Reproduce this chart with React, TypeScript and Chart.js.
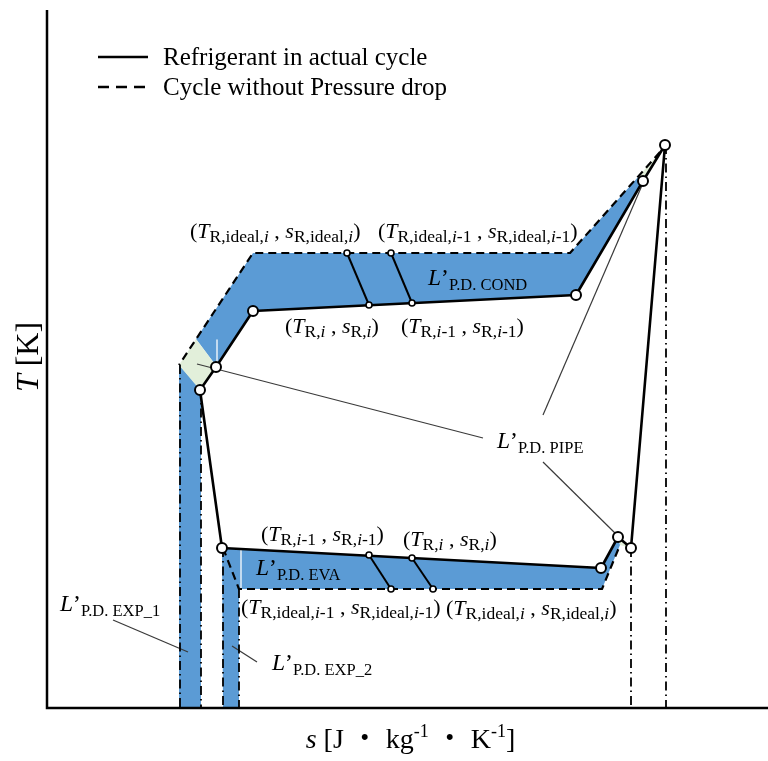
import React, { useEffect, useRef } from "react";
import { Chart, registerables } from "chart.js";

Chart.register(...registerables);

// ---- T-s diagram data (entropy s, temperature T; arbitrary drawing units) ----

// refrigerant in the actual cycle (closed loop, starting at compressor discharge)
const actualS = [618, 596, 529, 206, 169, 153, 175, 554, 571, 584, 618];
const actualT = [563, 527, 413, 397, 341, 318, 160, 140, 171, 160, 563];

// cycle without pressure drop: condenser side and evaporator side
const idealCondS = [613, 523, 206, 132];
const idealCondT = [556, 455, 455, 343];
const idealEvaS = [176, 192, 555, 573];
const idealEvaT = [160, 119, 119, 163];

// vertical dash-dot guide lines down to the s axis
const guideS = [133, 154, 176, 192, 584, 619];
const guideTopT = [343, 318, 160, 119, 160, 563];

// state pairs linking actual states i / i-1 to ideal states
const condActualS = [322, 365];
const condActualT = [403, 405];
const condIdealS = [300, 344];
const condIdealT = [455, 455];
const evaActualS = [322, 365];
const evaActualT = [153, 150];
const evaIdealS = [344, 386];
const evaIdealT = [119, 119];

// main state points (open circles)
const stateS = [618, 596, 529, 206, 169, 153, 175, 554, 571, 584];
const stateT = [563, 527, 413, 397, 341, 318, 160, 140, 171, 160];

// pressure-drop loss regions
const condBandS = [592, 523, 206, 149, 170, 206, 529, 596];
const condBandT = [532, 455, 455, 369, 341, 397, 413, 527];
const evaBandS = [175, 554, 571, 573, 555, 192, 192, 176];
const evaBandT = [160, 140, 171, 163, 119, 119, 0, 0];
const exp1BandS = [132, 154, 154, 132];
const exp1BandT = [343, 318, 0, 0];
const pipeTopS = [613, 592, 596, 618];
const pipeTopT = [556, 532, 527, 563];
const pipeLeftS = [149, 132, 153, 170];
const pipeLeftT = [369, 343, 318, 341];
const pipeRightS = [571, 584, 573];
const pipeRightT = [171, 160, 163];

// leader lines from labels to regions: [s0, s1], [T0, T1]
const leaderS = [[66, 141], [185, 210], [150, 436], [596, 496], [496, 570]];
const leaderT = [[88, 56], [62, 46], [344, 270], [525, 293], [246, 173]];

// light edges inside the bands
const glintS = [[170, 170], [194, 194]];
const glintT = [[368, 345], [158, 120]];

const S_MAX = 721;
const T_MAX = 698;

const BLUE = "#5b9bd5";
const GREEN = "#e2efda";
const SERIF = "'Liberation Serif', 'Times New Roman', 'Noto Sans CJK JP', serif";

type Run = { t: string; it?: boolean; sub?: boolean; sup?: boolean };

const pts = (s: number[], t: number[]) => s.map((v, i) => ({ x: v, y: t[i] }));

function pair(ideal: boolean, prev: boolean): Run[] {
  const idx: Run[] = [
    { t: ideal ? "R,ideal," : "R,", sub: true },
    { t: "i", it: true, sub: true },
  ];
  if (prev) idx.push({ t: "-1", sub: true });
  return [
    { t: "(" },
    { t: "T", it: true },
    ...idx,
    { t: " , " },
    { t: "s", it: true },
    ...idx,
    { t: ")" },
  ];
}

function lossLabel(name: string): Run[] {
  return [{ t: "L", it: true }, { t: "\u2019" }, { t: name, sub: true }];
}

type Label = { s: number; T: number; runs: Run[]; size: number; subSize: number; subDy: number };

const P = { size: 22, subSize: 17.5, subDy: 4 };
const L = { size: 23.5, subSize: 16.5, subDy: 5 };

const labels: Label[] = [
  { s: 143, T: 470, runs: pair(true, false), ...P },
  { s: 331, T: 470, runs: pair(true, true), ...P },
  { s: 381, T: 423, runs: lossLabel("P.D. COND"), ...L },
  { s: 238, T: 375, runs: pair(false, false), ...P },
  { s: 354, T: 375, runs: pair(false, true), ...P },
  { s: 450, T: 260, runs: lossLabel("P.D. PIPE"), ...L },
  { s: 214, T: 167, runs: pair(false, true), ...P },
  { s: 356, T: 162, runs: pair(false, false), ...P },
  { s: 209, T: 133, runs: lossLabel("P.D. EVA"), ...L },
  { s: 194, T: 94, runs: pair(true, true), ...P },
  { s: 399, T: 93, runs: pair(true, false), ...P },
  { s: 13, T: 97, runs: lossLabel("P.D. EXP_1"), ...L },
  { s: 225, T: 38, runs: lossLabel("P.D. EXP_2"), ...L },
];

const xTitle: Run[] = [
  { t: "s", it: true },
  { t: " [J \u30fb kg" },
  { t: "-1", sup: true },
  { t: " \u30fb K" },
  { t: "-1", sup: true },
  { t: "]" },
];
const yTitle: Run[] = [{ t: "T", it: true }, { t: " [K]" }];

function drawRuns(
  ctx: CanvasRenderingContext2D,
  runs: Run[],
  x: number,
  y: number,
  size: number,
  subSize: number,
  subDy: number,
  align: "left" | "center"
) {
  const fontFor = (r: Run) =>
    `${r.it ? "italic " : ""}${r.sub || r.sup ? subSize : size}px ${SERIF}`;
  let w = 0;
  for (const r of runs) {
    ctx.font = fontFor(r);
    w += ctx.measureText(r.t).width;
  }
  let cx = align === "center" ? x - w / 2 : x;
  for (const r of runs) {
    ctx.font = fontFor(r);
    const dy = r.sub ? subDy : r.sup ? -subDy : 0;
    ctx.fillText(r.t, cx, y + dy);
    cx += ctx.measureText(r.t).width;
  }
}

const decorations = {
  id: "decorations",
  afterDraw(chart: Chart) {
    const { ctx, chartArea } = chart;
    const xs = chart.scales.x;
    const ys = chart.scales.y;
    const { left, right, top, bottom } = chartArea;
    ctx.save();
    ctx.fillStyle = "#000";
    ctx.strokeStyle = "#000";
    ctx.textAlign = "left";
    ctx.textBaseline = "alphabetic";

    // axes
    ctx.lineWidth = 2.5;
    ctx.setLineDash([]);
    ctx.beginPath();
    ctx.moveTo(left, top);
    ctx.lineTo(left, bottom);
    ctx.lineTo(right, bottom);
    ctx.stroke();

    // legend
    const lx = left + 51;
    ctx.lineWidth = 2.5;
    ctx.beginPath();
    ctx.moveTo(lx, top + 47);
    ctx.lineTo(lx + 50, top + 47);
    ctx.stroke();
    ctx.setLineDash([11, 7]);
    ctx.beginPath();
    ctx.moveTo(lx, top + 77);
    ctx.lineTo(lx + 50, top + 77);
    ctx.stroke();
    ctx.setLineDash([]);
    ctx.font = `25px ${SERIF}`;
    ctx.fillText("Refrigerant in actual cycle", lx + 65, top + 55);
    ctx.fillText("Cycle without Pressure drop", lx + 65, top + 85);

    // annotations
    for (const l of labels) {
      drawRuns(ctx, l.runs, xs.getPixelForValue(l.s), ys.getPixelForValue(l.T), l.size, l.subSize, l.subDy, "left");
    }

    // axis titles
    drawRuns(ctx, xTitle, (left + right) / 2 + 3, bottom + 40, 28, 18, 11, "center");
    ctx.translate(38, (top + bottom) / 2 - 2);
    ctx.rotate(-Math.PI / 2);
    drawRuns(ctx, yTitle, 0, 0, 32, 20, 0, "center");
    ctx.restore();
  },
};

function polygon(s: number[], t: number[], color: string, order: number) {
  return {
    data: pts(s, t),
    fill: "shape",
    backgroundColor: color,
    borderWidth: 0,
    borderColor: "transparent",
    pointRadius: 0,
    order,
  };
}

function segment(s: number[], t: number[], color: string, width: number, dash: number[], order: number) {
  return {
    data: pts(s, t),
    fill: false,
    borderColor: color,
    borderWidth: width,
    borderDash: dash,
    pointRadius: 0,
    order,
  };
}

function circles(s: number[], t: number[], r: number, bw: number) {
  return {
    data: pts(s, t),
    showLine: false,
    pointRadius: r,
    pointBackgroundColor: "#fff",
    pointBorderColor: "#000",
    pointBorderWidth: bw,
    order: 0,
  };
}

export default function App() {
  const ref = useRef<HTMLCanvasElement>(null);

  useEffect(() => {
    if (!ref.current) return;
    const datasets: any[] = [
      polygon(exp1BandS, exp1BandT, BLUE, 20),
      polygon(evaBandS, evaBandT, BLUE, 20),
      polygon(condBandS, condBandT, BLUE, 20),
      polygon(pipeTopS, pipeTopT, GREEN, 18),
      polygon(pipeLeftS, pipeLeftT, GREEN, 18),
      polygon(pipeRightS, pipeRightT, GREEN, 18),
    ];
    glintS.forEach((s, i) => datasets.push(segment(s, glintT[i], "rgba(255,255,255,0.85)", 1.5, [], 15)));
    leaderS.forEach((s, i) => datasets.push(segment(s, leaderT[i], "#3a3a3a", 1.2, [], 12)));
    guideS.forEach((s, i) => datasets.push(segment([s, s], [guideTopT[i], 0], "#000", 1.8, [9, 4, 1.5, 4], 10)));
    datasets.push(segment(idealCondS, idealCondT, "#000", 2.2, [8, 5], 8));
    datasets.push(segment(idealEvaS, idealEvaT, "#000", 2.2, [8, 5], 8));
    condActualS.forEach((s, i) =>
      datasets.push(segment([condIdealS[i], s], [condIdealT[i], condActualT[i]], "#000", 2, [], 6))
    );
    evaActualS.forEach((s, i) =>
      datasets.push(segment([s, evaIdealS[i]], [evaActualT[i], evaIdealT[i]], "#000", 2, [], 6))
    );
    datasets.push(segment(actualS, actualT, "#000", 2.6, [], 5));
    datasets.push(circles(stateS, stateT, 5, 2));
    datasets.push(
      circles(
        [...condIdealS, ...condActualS, ...evaActualS, ...evaIdealS],
        [...condIdealT, ...condActualT, ...evaActualT, ...evaIdealT],
        3,
        1.6
      )
    );

    const chart = new Chart(ref.current, {
      type: "line",
      data: { datasets },
      options: {
        responsive: false,
        animation: false,
        events: [],
        devicePixelRatio: 1,
        layout: { autoPadding: false, padding: { left: 47, top: 10, right: 0, bottom: 53 } },
        elements: { line: { tension: 0, borderJoinStyle: "round", borderCapStyle: "butt" } },
        plugins: { legend: { display: false }, tooltip: { enabled: false } },
        scales: {
          x: { type: "linear", min: 0, max: S_MAX, display: false },
          y: { type: "linear", min: 0, max: T_MAX, display: false },
        },
      },
      plugins: [decorations],
    } as any);
    return () => chart.destroy();
  }, []);

  return (
    <div style={{ position: "fixed", left: 0, top: 0, width: 768, height: 761, background: "#fff" }}>
      <canvas ref={ref} width={768} height={761} style={{ display: "block" }} />
    </div>
  );
}
